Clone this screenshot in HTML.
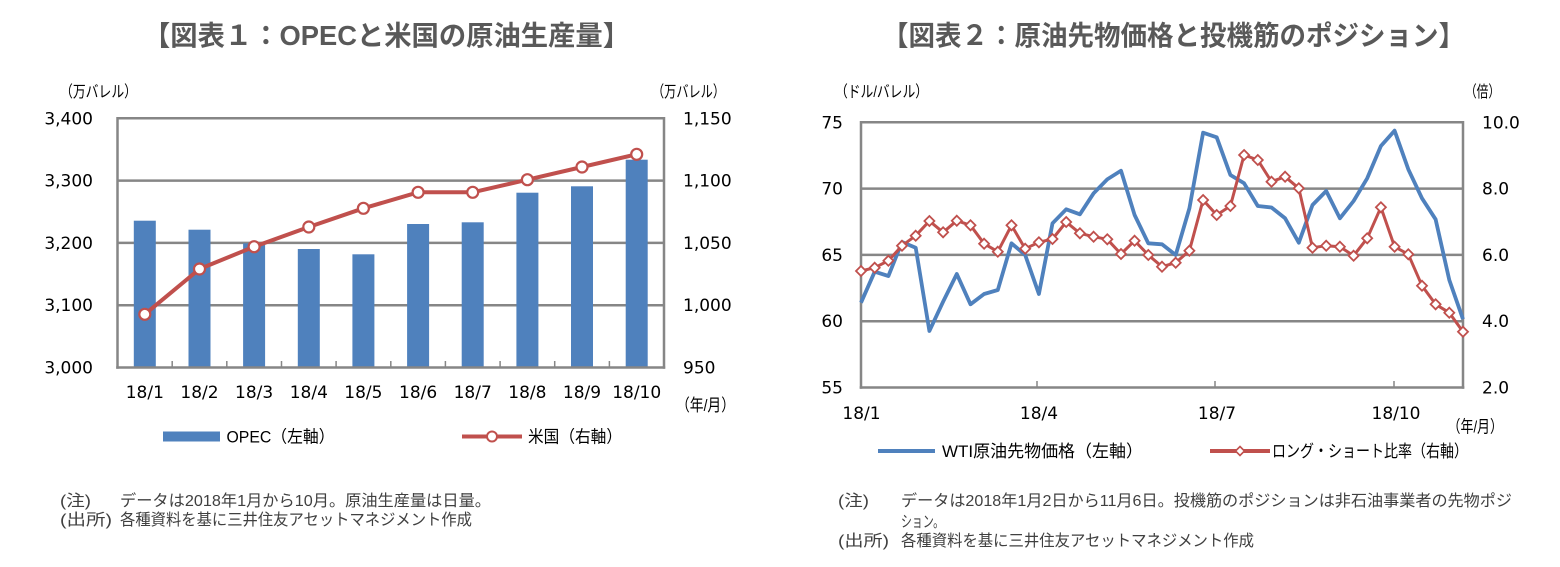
<!DOCTYPE html>
<html><head><meta charset="utf-8"><style>
html,body{margin:0;padding:0;background:#fff;}
svg{display:block;}
.t{font-family:"DejaVu Sans","Liberation Sans","Noto Sans CJK JP",sans-serif;font-size:17px;fill:#000;}
.j{font-family:"Liberation Sans","Noto Sans CJK JP",sans-serif;font-size:16px;fill:#000;}
.l{font-family:"Liberation Sans","Noto Sans CJK JP",sans-serif;font-size:17px;fill:#000;}
.n{font-family:"Liberation Sans","Noto Sans CJK JP",sans-serif;font-size:16px;fill:#404040;}
.h{font-family:"Liberation Sans","Noto Sans CJK JP",sans-serif;font-size:27.5px;font-weight:bold;fill:#595959;}
</style></head><body>
<svg width="1560" height="567" viewBox="0 0 1560 567" xmlns="http://www.w3.org/2000/svg">
<defs>
<marker id="circ" markerUnits="userSpaceOnUse" markerWidth="16" markerHeight="16" refX="8" refY="8" viewBox="0 0 16 16"><circle cx="8" cy="8" r="5.5" fill="#fff" stroke="#C0504D" stroke-width="2.2"/></marker>
<marker id="dia" markerUnits="userSpaceOnUse" markerWidth="14" markerHeight="14" refX="7" refY="7" viewBox="0 0 14 14"><path d="M7,2 L12,7 L7,12 L2,7Z" fill="#fff" stroke="#C0504D" stroke-width="1.8"/></marker>
</defs>
<rect width="1560" height="567" fill="#fff"/>

<!-- Titles -->
<text class="h" x="143" y="45" textLength="487" lengthAdjust="spacingAndGlyphs">【図表１：OPECと米国の原油生産量】</text>
<text class="h" x="882" y="45" textLength="583" lengthAdjust="spacingAndGlyphs">【図表２：原油先物価格と投機筋のポジション】</text>

<!-- ===== Left chart ===== -->
<text class="j" x="60" y="97" textLength="77" lengthAdjust="spacingAndGlyphs">（万バレル）</text>
<text class="j" x="652" y="97" textLength="73" lengthAdjust="spacingAndGlyphs">（万バレル）</text>
<g stroke="#868686" stroke-width="2.5" fill="none">
<line x1="117.5" y1="118.3" x2="664" y2="118.3"/>
<line x1="117.5" y1="180.6" x2="664" y2="180.6"/>
<line x1="117.5" y1="242.9" x2="664" y2="242.9"/>
<line x1="117.5" y1="305.2" x2="664" y2="305.2"/>
</g>
<g fill="#4F81BD">
<rect x="133.8" y="220.7" width="22" height="146.8"/>
<rect x="188.5" y="229.7" width="22" height="137.8"/>
<rect x="243.1" y="243.3" width="22" height="124.2"/>
<rect x="297.8" y="249" width="22" height="118.5"/>
<rect x="352.4" y="254.3" width="22" height="113.2"/>
<rect x="407.1" y="224" width="22" height="143.5"/>
<rect x="461.7" y="222.3" width="22" height="145.2"/>
<rect x="516.4" y="192.7" width="22" height="174.8"/>
<rect x="571" y="186.3" width="22" height="181.2"/>
<rect x="625.7" y="159.7" width="22" height="207.8"/>
</g>
<g stroke="#868686" stroke-width="2.5" fill="none">
<line x1="117.5" y1="117" x2="117.5" y2="368.7"/>
<line x1="664" y1="117" x2="664" y2="368.7"/>
<line x1="116.2" y1="367.5" x2="665.2" y2="367.5"/>
</g>
<g stroke="#868686" stroke-width="1.5">
<line x1="172.2" y1="361" x2="172.2" y2="367"/>
<line x1="226.8" y1="361" x2="226.8" y2="367"/>
<line x1="281.5" y1="361" x2="281.5" y2="367"/>
<line x1="336.1" y1="361" x2="336.1" y2="367"/>
<line x1="390.8" y1="361" x2="390.8" y2="367"/>
<line x1="445.4" y1="361" x2="445.4" y2="367"/>
<line x1="500.1" y1="361" x2="500.1" y2="367"/>
<line x1="554.7" y1="361" x2="554.7" y2="367"/>
<line x1="609.4" y1="361" x2="609.4" y2="367"/>
</g>
<polyline points="144.8,314.3 199.5,269 254.1,246.7 308.8,227 363.4,208.3 418.1,192.3 472.7,192.3 527.4,179.7 582,167 636.7,154.3" fill="none" stroke="#C0504D" stroke-width="4" stroke-linejoin="round" marker-start="url(#circ)" marker-mid="url(#circ)" marker-end="url(#circ)"/>
<g class="t" text-anchor="end">
<text x="93" y="124.3">3,400</text>
<text x="93" y="186.6">3,300</text>
<text x="93" y="248.9">3,200</text>
<text x="93" y="311.2">3,100</text>
<text x="93" y="373.5">3,000</text>
</g>
<g class="t">
<text x="683" y="124.3">1,150</text>
<text x="683" y="186.6">1,100</text>
<text x="683" y="248.9">1,050</text>
<text x="683" y="311.2">1,000</text>
<text x="683" y="373.5">950</text>
</g>
<g class="t" text-anchor="middle">
<text x="144.8" y="398">18/1</text>
<text x="199.5" y="398">18/2</text>
<text x="254.1" y="398">18/3</text>
<text x="308.8" y="398">18/4</text>
<text x="363.4" y="398">18/5</text>
<text x="418.1" y="398">18/6</text>
<text x="472.7" y="398">18/7</text>
<text x="527.4" y="398">18/8</text>
<text x="582" y="398">18/9</text>
<text x="636.7" y="398">18/10</text>
</g>
<text class="l" x="676" y="411" textLength="59" lengthAdjust="spacingAndGlyphs">（年/月）</text>

<!-- Left legend -->
<rect x="163" y="431.5" width="57" height="10" fill="#4F81BD"/>
<text class="l" x="226.5" y="442.5" textLength="108" lengthAdjust="spacingAndGlyphs">OPEC（左軸）</text>
<line x1="462" y1="436.5" x2="522" y2="436.5" stroke="#C0504D" stroke-width="4"/>
<circle cx="492" cy="436.5" r="5" fill="#fff" stroke="#C0504D" stroke-width="2"/>
<text class="l" x="528" y="442.5" textLength="94" lengthAdjust="spacingAndGlyphs">米国（右軸）</text>

<!-- Left notes -->
<text class="n" x="60" y="506" textLength="31" lengthAdjust="spacingAndGlyphs">(注)</text>
<text class="n" x="120" y="506" textLength="371" lengthAdjust="spacingAndGlyphs">データは2018年1月から10月。原油生産量は日量。</text>
<text class="n" x="60" y="525" textLength="52" lengthAdjust="spacingAndGlyphs">(出所)</text>
<text class="n" x="120" y="525" textLength="352" lengthAdjust="spacingAndGlyphs">各種資料を基に三井住友アセットマネジメント作成</text>

<!-- ===== Right chart ===== -->
<text class="j" x="835" y="97" textLength="93" lengthAdjust="spacingAndGlyphs">（ドル/バレル）</text>
<text class="j" x="1465" y="97" textLength="35" lengthAdjust="spacingAndGlyphs">（倍）</text>
<g stroke="#868686" stroke-width="2.5" fill="none">
<line x1="861" y1="122.3" x2="1463" y2="122.3"/>
<line x1="861" y1="188.6" x2="1463" y2="188.6"/>
<line x1="861" y1="254.9" x2="1463" y2="254.9"/>
<line x1="861" y1="321.2" x2="1463" y2="321.2"/>
<line x1="861" y1="121" x2="861" y2="388.7"/>
<line x1="1463" y1="121" x2="1463" y2="388.7"/>
<line x1="859.7" y1="387.5" x2="1464.3" y2="387.5"/>
</g>
<g stroke="#868686" stroke-width="1.5">
<line x1="1037" y1="381" x2="1037" y2="387"/>
<line x1="1215" y1="381" x2="1215" y2="387"/>
<line x1="1394" y1="381" x2="1394" y2="387"/>
</g>
<polyline fill="none" stroke="#4F81BD" stroke-width="3.8" stroke-linejoin="round" points="861,302.7 874.7,271.7 888.4,276 902,242 915.7,247.7 929.4,331 943.1,301.7 956.8,274 970.5,304.3 984.1,294 997.8,290 1011.5,243.3 1025.2,255 1038.9,294 1052.5,223.3 1066.2,209.3 1079.9,214.3 1093.6,193.3 1107.3,179.3 1121,170.7 1134.6,215 1148.3,243.3 1162,244.3 1175.7,255 1189.4,208.3 1203.1,132.7 1216.7,137.3 1230.4,175 1244.1,183.3 1257.8,206 1271.5,207.5 1285.1,218.3 1298.8,242.7 1312.5,205 1326.2,191 1339.9,218.3 1353.6,201 1367.2,178.3 1380.9,146 1394.6,130.7 1408.3,169.3 1422,198.3 1435.6,219.3 1449.3,280 1463,319.3"/>
<polyline fill="none" stroke="#C0504D" stroke-width="3" stroke-linejoin="round" marker-start="url(#dia)" marker-mid="url(#dia)" marker-end="url(#dia)" points="861,271 874.7,267.7 888.4,260.7 902,245.7 915.7,235.7 929.4,221 943.1,232.3 956.8,220.7 970.5,225.3 984.1,243.7 997.8,251.7 1011.5,225.3 1025.2,248.7 1038.9,242.3 1052.5,239 1066.2,222 1079.9,233.3 1093.6,236.7 1107.3,239.3 1121,254 1134.6,240.7 1148.3,255 1162,266.7 1175.7,262.7 1189.4,250.7 1203.1,200 1216.7,215 1230.4,206 1244.1,155 1257.8,160 1271.5,181.7 1285.1,176.7 1298.8,188.3 1312.5,247.7 1326.2,245.7 1339.9,246.7 1353.6,255.7 1367.2,238.3 1380.9,207.3 1394.6,246.7 1408.3,254.3 1422,285.7 1435.6,304.3 1449.3,312.7 1463,331.7"/>
<g class="t" text-anchor="end">
<text x="843" y="128.3">75</text>
<text x="843" y="194.6">70</text>
<text x="843" y="260.9">65</text>
<text x="843" y="327.2">60</text>
<text x="843" y="393.5">55</text>
</g>
<g class="t">
<text x="1482" y="128.3">10.0</text>
<text x="1482" y="194.6">8.0</text>
<text x="1482" y="260.9">6.0</text>
<text x="1482" y="327.2">4.0</text>
<text x="1482" y="393.5">2.0</text>
</g>
<g class="t" text-anchor="middle">
<text x="861.5" y="419">18/1</text>
<text x="1039" y="419">18/4</text>
<text x="1217" y="419">18/7</text>
<text x="1396" y="419">18/10</text>
</g>
<text class="l" x="1447.5" y="432.5" textLength="55.5" lengthAdjust="spacingAndGlyphs">（年/月）</text>

<!-- Right legend -->
<line x1="878" y1="451" x2="935" y2="451" stroke="#4F81BD" stroke-width="4"/>
<text class="l" x="942" y="457" textLength="201" lengthAdjust="spacingAndGlyphs">WTI原油先物価格（左軸）</text>
<line x1="1210" y1="451" x2="1270" y2="451" stroke="#C0504D" stroke-width="4"/>
<path d="M1240,446.5 L1244.5,451 L1240,455.5 L1235.5,451Z" fill="#fff" stroke="#C0504D" stroke-width="1.6"/>
<text class="l" x="1272" y="457" textLength="196" lengthAdjust="spacingAndGlyphs">ロング・ショート比率（右軸）</text>

<!-- Right notes -->
<text class="n" x="838" y="506" textLength="31" lengthAdjust="spacingAndGlyphs">(注)</text>
<text class="n" x="901" y="506" textLength="611" lengthAdjust="spacingAndGlyphs">データは2018年1月2日から11月6日。投機筋のポジションは非石油事業者の先物ポジ</text>
<text class="n" x="901" y="527" textLength="43" lengthAdjust="spacingAndGlyphs">ション。</text>
<text class="n" x="838" y="546" textLength="51" lengthAdjust="spacingAndGlyphs">(出所)</text>
<text class="n" x="901" y="546" textLength="353" lengthAdjust="spacingAndGlyphs">各種資料を基に三井住友アセットマネジメント作成</text>
</svg>
</body></html>
